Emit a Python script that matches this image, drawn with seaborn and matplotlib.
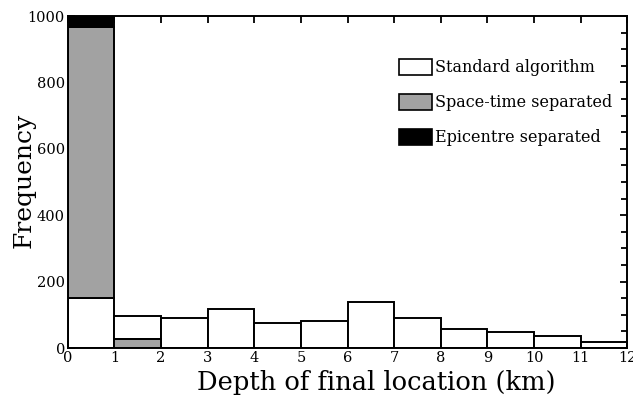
import numpy as np
import matplotlib
matplotlib.use("Agg")
import matplotlib.pyplot as plt
from matplotlib.patches import Patch
from matplotlib.ticker import MultipleLocator
import seaborn as sns

# Histogram bins (km) and counts
depth_edges = list(range(0, 13))
standard = [150, 97, 90, 117, 75, 80, 138, 91, 58, 49, 37, 17]
spacetime = [818, 26, 0, 0, 0, 0, 0, 0, 0, 0, 0, 0]
epicentre = [32, 0, 0, 0, 0, 0, 0, 0, 0, 0, 0, 0]
legend_labels = ["Standard algorithm", "Space-time separated", "Epicentre separated"]

sns.set_style("ticks")
plt.rcParams['font.family'] = ['DejaVu Serif']
plt.rcParams['text.color'] = 'black'
plt.rcParams['axes.labelcolor'] = 'black'

centers = np.array(depth_edges[:-1]) + 0.5
# grey bar sits on the standard bar in the first bin, on the floor in the second
spacetime_base = np.where(np.arange(len(spacetime)) == 0, standard, 0)
epicentre_base = spacetime_base + np.array(spacetime)

fig = plt.figure(figsize=(6.33, 4.0), dpi=100)
ax = fig.add_axes([0.107, 0.13, 0.884, 0.83])

sns.histplot(x=centers, weights=standard, bins=depth_edges, ax=ax,
             color="white", edgecolor="black", linewidth=1.4, alpha=1)
ax.bar(depth_edges[:-1], spacetime, width=1, bottom=spacetime_base, align="edge",
       color="#a2a2a2", edgecolor="black", linewidth=1.4)
ax.bar(depth_edges[:-1], epicentre, width=1, bottom=epicentre_base, align="edge",
       color="black", edgecolor="black", linewidth=1.4)

ax.set_xlim(0, 12)
ax.set_ylim(0, 1000)
ax.xaxis.set_major_locator(MultipleLocator(1))
ax.yaxis.set_major_locator(MultipleLocator(200))
ax.yaxis.set_minor_locator(MultipleLocator(50))
ax.tick_params(which="both", direction="in", top=True, right=True, width=1.3,
               labelsize=10.5, pad=2, color="black", labelcolor="black")
ax.tick_params(which="major", length=5)
ax.tick_params(which="minor", length=4)
for s in ax.spines.values():
    s.set_linewidth(1.4)
    s.set_color("black")

ax.set_xlabel("Depth of final location (km)", fontsize=18.5)
ax.xaxis.set_label_coords(0.552, -0.066)
ax.set_ylabel("Frequency", fontsize=18)
ax.yaxis.set_label_coords(-0.058, 0.505)

handles = [Patch(facecolor="white", edgecolor="black", linewidth=1.2),
           Patch(facecolor="#a2a2a2", edgecolor="black", linewidth=1.2),
           Patch(facecolor="black", edgecolor="black", linewidth=1.2)]
ax.legend(handles, legend_labels, loc="upper right", bbox_to_anchor=(0.985, 0.89),
          frameon=False, fontsize=11.5, handlelength=2.1, handleheight=1.2,
          handletextpad=0.2, labelspacing=1.08, borderaxespad=0)

fig.savefig("out.png", dpi=100)
